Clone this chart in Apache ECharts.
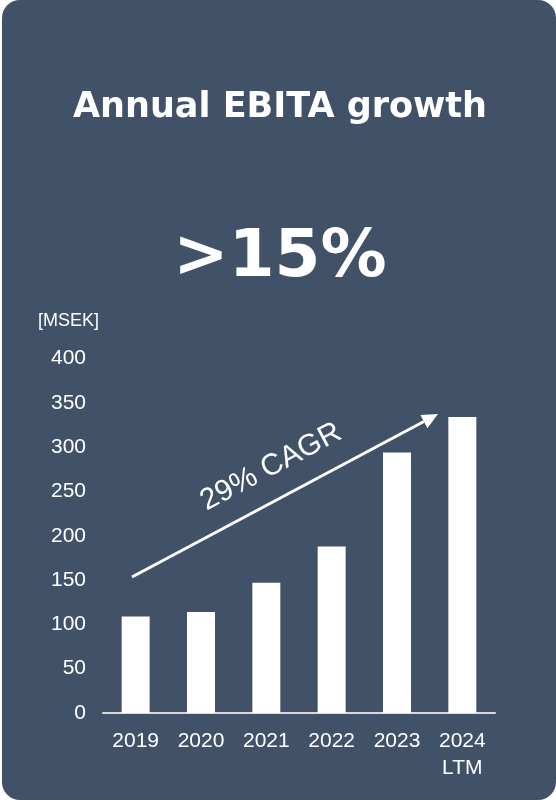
<!DOCTYPE html>
<html>
<head>
<meta charset="utf-8">
<script src="https://cdn.jsdelivr.net/npm/echarts@6/dist/echarts.min.js"></script>
<style>
html,body{margin:0;padding:0;background:#ffffff;}
#chart{width:556px;height:803px;}
</style>
</head>
<body>
<div id="chart"></div>
<script>
var categories = ['2019', '2020', '2021', '2022', '2023', '2024\nLTM'];
var ebita = [109, 114, 147, 188, 294, 334];
var yTicks = [0, 50, 100, 150, 200, 250, 300, 350, 400];
var titleText = 'Annual EBITA growth';
var headline = '>15%';
var unitLabel = '[MSEK]';
var cagrLabel = '29% CAGR';

var BG = '#405168';
var chart = echarts.init(document.getElementById('chart'), null, {renderer: 'canvas'});

// arrow geometry (annotation)
var a0 = [132, 577], a1 = [438, 414];
var dx = a1[0] - a0[0], dy = a1[1] - a0[1];
var len = Math.sqrt(dx * dx + dy * dy);
var ux = dx / len, uy = dy / len;
var headL = 16, headW = 7.5;
var bx = a1[0] - headL * ux, by = a1[1] - headL * uy;
var nx = -uy, ny = ux;
var ang = Math.atan2(-dy, dx);

var option = {
  backgroundColor: '#ffffff',
  animation: false,
  grid: {left: 103, right: 61, top: 358.5, bottom: 90, containLabel: false},
  xAxis: {
    type: 'category',
    data: categories,
    axisLine: {show: true, lineStyle: {color: '#d9d9d9', width: 2}},
    axisTick: {show: false},
    axisLabel: {color: '#ffffff', fontSize: 21, fontFamily: 'Liberation Sans', margin: 15, lineHeight: 27, interval: 0}
  },
  yAxis: {
    type: 'value',
    min: yTicks[0],
    max: yTicks[yTicks.length - 1],
    interval: yTicks[1] - yTicks[0],
    axisLine: {show: false},
    axisTick: {show: false},
    splitLine: {show: false},
    axisLabel: {color: '#ffffff', fontSize: 21, fontFamily: 'Liberation Sans', margin: 17}
  },
  series: [{
    type: 'bar',
    data: ebita,
    barWidth: 28,
    itemStyle: {color: '#ffffff'},
    z: 5
  }],
  graphic: [
    {type: 'rect', z: -10, silent: true, shape: {x: 2, y: 0, width: 554, height: 800, r: 18}, style: {fill: BG}},
    {type: 'text', z: 10, style: {text: titleText, x: 280, y: 108, textAlign: 'center', textVerticalAlign: 'middle', fill: '#ffffff', font: 'bold 35px "DejaVu Sans"'}},
    {type: 'text', z: 10, style: {text: headline, x: 280, y: 259, textAlign: 'center', textVerticalAlign: 'middle', fill: '#ffffff', font: 'bold 66px "DejaVu Sans"'}},
    {type: 'text', z: 10, style: {text: unitLabel, x: 38, y: 321, textAlign: 'left', textVerticalAlign: 'middle', fill: '#ffffff', font: '18px "Liberation Sans"'}},
    {type: 'line', z: 10, shape: {x1: a0[0], y1: a0[1], x2: bx, y2: by}, style: {stroke: '#ffffff', lineWidth: 3}},
    {type: 'polygon', z: 10, shape: {points: [[a1[0], a1[1]], [bx + headW * nx, by + headW * ny], [bx - headW * nx, by - headW * ny]]}, style: {fill: '#ffffff'}},
    {type: 'text', z: 10, x: 271, y: 467, rotation: ang, style: {text: cagrLabel, x: 0, y: 0, textAlign: 'center', textVerticalAlign: 'middle', fill: '#ffffff', font: '30px "Liberation Sans"'}}
  ]
};
chart.setOption(option);
</script>
</body>
</html>
